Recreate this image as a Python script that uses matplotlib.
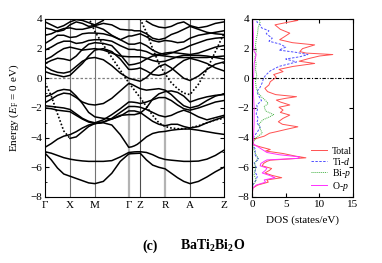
import numpy as np
import matplotlib
matplotlib.use('Agg')
import matplotlib.pyplot as plt

plt.rcParams['font.family'] = ['Liberation Serif', 'DejaVu Serif']
plt.rcParams['mathtext.fontset'] = 'custom'
plt.rcParams['mathtext.rm'] = 'Liberation Serif'
plt.rcParams['mathtext.it'] = 'Liberation Serif:italic'
plt.rcParams['mathtext.bf'] = 'Liberation Serif:bold'

nan = np.nan

# k-path (distance along path) and labels
kpts = [0, 6.25, 12.5, 18.75, 25, 31.25, 37.5, 43.75, 50, 58.5, 67, 75.5, 84,
        86.9, 89.75, 92.6, 95.5, 101.75, 108, 114.25, 120.5, 126.75, 133, 139.25, 145.5,
        154, 162.5, 171, 179.5]
hs_k = [0, 25, 50, 84, 95.5, 120.5, 145.5, 179.5]
hs_labels = ['Γ', 'X', 'M', 'Γ', 'Z', 'R', 'A', 'Z']

# bands (eV) read at kpts
b1 = [-5.05, -5.5, -6.05, -6.45, -6.6, -6.75, -6.9, -7.05, -7.1, -6.95, -6.4, -5.6, -5.1,
      -5.08, -5.07, -5.06, -5.05, -5.5, -5.85, -6.0, -6.1, -6.4, -6.7, -6.95, -7.1, -6.95, -6.65, -6.3, -6.0]
b2 = [-4.95, -5.05, -5.2, -5.35, -5.45, -5.52, -5.57, -5.6, -5.6, -5.6, -5.55, -5.3, -5.0,
      -4.98, -4.96, -4.95, -4.95, -5.0, -5.15, -5.35, -5.47, -5.52, -5.56, -5.6, -5.6, -5.58, -5.45, -5.2, -4.85]
b4 = [-4.65, -4.4, -4.1, -3.9, -3.8, -3.6, -3.35, -3.15, -3.05, -3.0, -3.15, -3.8, -4.65,
      -4.62, -4.55, -4.45, -4.3, -3.95, -3.72, -3.62, -3.58, -3.5, -3.45, -3.42, -3.42, -3.5, -3.6, -3.7, -3.78]
v5 = [nan, nan, nan, nan, -4.05, -3.95, -3.6, -3.25, -3.05, -2.95, -2.75, -2.5, -2.45,
      -2.45, -2.45, -2.4, -2.35, -2.0, -1.4, -1.05, -0.9, -0.85, -0.95, -1.2, -1.6, -1.4, -1.25, -1.15, -1.1]
v1 = [-1.65, -1.4, -1.15, -1.0, -1.05, -1.3, -1.6, -1.75, -1.8, -1.7, -1.35, -0.85, -0.35,
      -0.4, -0.5, -0.6, -0.7, -0.8, -0.75, -0.7, -0.8, -1.1, -1.5, -1.85, -2.0, -1.85, -1.5, -1.2, -1.05]
v2 = [-1.85, -1.9, -1.95, -2.0, -2.1, -2.4, -2.7, -2.9, -3.0, -2.8, -2.45, -2.05, -1.6,
      -1.6, -1.62, -1.65, -1.7, -1.6, -1.45, -1.3, -1.3, -1.5, -1.8, -2.05, -2.15, -2.0, -1.8, -1.6, -1.5]
v3 = [-2.0, -2.05, -2.15, -2.2, -2.25, -2.5, -2.75, -2.95, -3.05, -2.95, -2.7, -2.3, -1.9,
      -1.9, -1.9, -1.92, -1.95, -2.1, -2.3, -2.5, -2.6, -2.5, -2.3, -2.15, -2.3, -2.6, -2.8, -2.65, -2.5]
v4 = [-1.25, -1.1, -0.85, -0.75, -0.8, -1.2, -1.7, -2.3, -2.6, -2.7, -2.75, -2.55, -2.2,
      -2.2, -2.2, -2.25, -2.3, -2.6, -2.9, -3.1, -3.2, -3.1, -3.1, -3.25, -3.35, -3.25, -3.0, -2.8, -2.6]
c1 = [0.8, 0.55, 0.4, 0.35, 0.45, 0.8, 1.15, 1.35, 1.4, 1.25, 0.85, 0.35, 0.0,
      -0.05, -0.1, -0.15, -0.2, 0.05, 0.45, 0.8, 0.95, 0.7, 0.35, 0.0, -0.15, 0.15, 0.6, 0.95, 1.1]
c2 = [0.45, 0.3, 0.2, 0.1, 0.2, 0.6, 1.0, 1.5, 1.9, 2.0, 1.8, 1.3, 0.6,
      0.6, 0.62, 0.65, 0.7, 0.5, 0.25, 0.2, 0.3, 0.55, 0.9, 1.2, 1.35, 1.2, 1.0, 0.7, 0.5]
c3 = [1.0, 1.2, 1.35, 1.3, 1.2, 1.5, 1.95, 2.3, 2.4, 2.35, 2.2, 1.6, 0.9,
      0.92, 0.95, 1.0, 1.05, 1.3, 1.5, 1.55, 1.5, 1.45, 1.4, 1.4, 1.4, 1.4, 1.4, 1.45, 1.5]
c4 = [1.25, 1.45, 1.75, 2.0, 2.1, 2.0, 1.9, 1.95, 2.0, 1.9, 1.7, 1.5, 1.45,
      1.45, 1.45, 1.45, 1.45, 1.35, 1.2, 1.1, 1.15, 1.3, 1.45, 1.55, 1.55, 1.55, 1.5, 1.4, 1.3]
c5 = [1.9, 2.1, 2.35, 2.5, 2.5, 2.35, 2.4, 2.55, 2.6, 2.6, 2.5, 2.2, 1.95,
      1.95, 1.95, 1.9, 1.9, 1.8, 1.6, 1.6, 1.7, 1.75, 1.7, 1.65, 1.6, 1.7, 1.9, 2.1, 2.2]
c6 = [2.35, 2.6, 2.9, 2.9, 2.75, 2.8, 3.0, 3.05, 3.05, 3.0, 2.85, 2.6, 2.3,
      2.3, 2.3, 2.35, 2.4, 2.2, 1.9, 1.7, 1.6, 1.7, 1.85, 2.0, 2.2, 2.4, 2.6, 2.7, 2.75]
c7 = [2.9, 3.0, 3.2, 3.35, 3.4, 3.3, 3.3, 3.4, 3.5, 3.3, 2.9, 2.6, 2.85,
      2.85, 2.9, 2.95, 3.0, 2.8, 2.55, 2.45, 2.55, 2.5, 2.4, 2.45, 2.7, 2.9, 3.0, 3.1, 3.2]
c8 = [3.4, 3.3, 3.15, 3.25, 3.6, 3.8, 3.7, 3.5, 3.55, 3.7, 3.6, 3.3, 3.25,
      3.25, 3.2, 3.2, 3.2, 3.0, 2.7, 2.6, 2.7, 2.95, 3.1, 3.3, 3.5, 3.3, 3.1, 3.0, 2.95]
c9 = [3.8, 3.6, 3.4, 3.55, 3.8, 3.95, 3.9, 3.75, 3.6, 3.9, nan, nan, nan,
      nan, nan, nan, nan, 3.85, 3.6, 3.45, 3.4, 3.5, 3.7, 3.8, 3.55, 3.4, 3.5, 3.7, 3.8]
# steep bands drawn dotted
d1 = [-0.3, -1.2, -2.4, -3.55, -4.05] + [nan] * 24
d2 = [nan, nan, nan, nan, nan, nan, nan, 4.1, 3.15, 2.25, 1.4, 0.55, -0.3,
      -0.55, -0.8, -1.05, -1.3, -1.9, -2.5, -3.0, -3.25, -3.35, -3.4, -3.4, -3.35, -3.2, -3.0, -2.8, -2.7]
d3 = [nan] * 16 + [4.0, 3.1, 2.0, 1.0, 0.3, -0.3, -0.7, -1.0, -1.1, -0.4, 0.6, 1.8, 3.0]

solid_bands = [b1, b2, b4, v5, v1, v2, v3, v4, c1, c2, c3, c4, c5, c6, c7, c8, c9]
dotted_bands = [d1, d2, d3]

# DOS (states/eV) read at energies
total_e = [-8, -7.4, -7.2, -7.0, -6.85, -6.7, -6.55, -6.38, -6.2, -6.08, -5.9, -5.74, -5.6, -5.52,
           -5.42, -5.36, -5.25, -5.07, -4.9, -4.8, -4.62, -4.5, -4.3, -4.1, -3.9, -3.7, -3.6, -3.45,
           -3.27, -3.1, -2.93, -2.7, -2.48, -2.3, -2.14, -1.95, -1.8, -1.6, -1.47, -1.35, -1.24,
           -1.1, -0.9, -0.68, -0.45, -0.23, 0.07, 0.25, 0.45, 0.6, 0.8, 1.0, 1.15, 1.35, 1.5, 1.6,
           1.7, 1.8, 2.0, 2.25, 2.4, 2.6, 2.8, 3.04, 3.3, 3.6, 3.75, 3.9, 4.0]
total_dos = [0, 0.1, 0.8, 2.4, 2.2, 4.4, 3.0, 1.9, 2.6, 2.9, 1.5, 1.7, 2.2, 2.7,
             6.0, 8.0, 6.5, 4.6, 2.0, 2.7, 1.2, 0.3, 0.1, 0.3, 1.8, 2.6, 3.6, 5.0,
             6.8, 4.5, 3.9, 4.6, 5.6, 4.2, 4.6, 4.0, 5.6, 4.2, 3.6, 5.0, 6.6,
             3.5, 2.3, 1.9, 2.5, 2.7, 3.6, 3.2, 4.6, 4.0, 6.1, 9.3, 7.0, 8.6, 10.0, 12.0,
             8.0, 7.1, 7.5, 9.3, 6.0, 4.1, 4.8, 5.6, 4.2, 3.4, 5.0, 6.8, 5.5]
tid_e = [-8, -7.2, -6.9, -6.6, -6.3, -6.0, -5.7, -5.45, -5.3, -5.1, -4.8, -4.5, -4.2, -3.9, -3.6,
         -3.3, -3.0, -2.7, -2.4, -2.1, -1.8, -1.5, -1.2, -0.9, -0.6, -0.3, 0.0, 0.2, 0.5, 0.8,
         1.1, 1.3, 1.45, 1.6, 1.75, 1.9, 2.1, 2.3, 2.5, 2.7, 3.0, 3.2, 3.4, 3.6, 3.8, 4.0]
tid_dos = [0, 0.1, 0.5, 0.8, 0.4, 0.6, 0.3, 1.0, 0.6, 0.4, 0.5, 0.1, 0.05, 0.3, 0.8,
           1.2, 0.7, 0.9, 0.6, 0.8, 0.7, 1.4, 1.0, 0.7, 1.2, 1.5, 1.7, 2.0, 2.7, 4.0,
           6.6, 5.0, 7.1, 8.3, 6.5, 4.0, 5.0, 4.2, 2.5, 3.0, 2.1, 2.5, 1.4, 1.2, 0.7, 0.9]
bip_e = [-8, -7.2, -6.9, -6.5, -6.1, -5.7, -5.4, -5.0, -4.7, -4.4, -4.0, -3.7, -3.4, -3.1, -2.8,
         -2.6, -2.45, -2.2, -1.9, -1.7, -1.5, -1.3, -1.0, -0.6, -0.2, 0.2, 0.6, 1.0, 1.4, 1.8,
         2.2, 2.6, 3.0, 3.4, 3.8, 4.0]
bip_dos = [0, 0.1, 0.6, 0.3, 0.5, 0.4, 0.9, 0.4, 0.2, 0.05, 0.6, 1.5, 1.2, 1.0, 1.6,
           2.6, 3.2, 2.0, 1.8, 2.4, 2.0, 1.5, 0.9, 0.6, 0.5, 0.7, 0.5, 0.6, 0.4, 0.6,
           0.5, 0.6, 0.8, 0.9, 1.2, 1.0]
op_e = [-8, -7.4, -7.2, -7.0, -6.85, -6.7, -6.55, -6.38, -6.2, -6.05, -5.9, -5.74, -5.6, -5.5,
        -5.4, -5.3, -5.15, -5.0, -4.8, -4.6, -4.4, -4.0, -3.0, -2.0, -1.0, 0.0, 1.0, 1.6, 1.8,
        2.2, 3.0, 4.0]
op_dos = [0, 0.1, 0.6, 2.0, 1.8, 3.4, 2.6, 1.5, 2.0, 2.2, 1.2, 1.3, 1.8, 2.2,
          6.8, 7.1, 4.0, 2.2, 1.5, 0.8, 0.1, 0.2, 0.3, 0.3, 0.2, 0.2, 0.3, 0.6, 0.3,
          0.2, 0.2, 0.1]

fig = plt.figure(figsize=(3.82, 2.63), dpi=100)
ax = fig.add_axes([0.118, 0.251, 0.468, 0.677])
ax2 = fig.add_axes([0.660, 0.251, 0.264, 0.677])

# band structure
vcol = ['0.45', '0.45', '0.45', '0.7', '0.3', '0.7', '0.3', '0.45']
vlw = [0.8, 0.8, 0.8, 1.6, 0.8, 1.6, 0.8, 0.8]
for k, c, w in zip(hs_k[1:-1], vcol[1:-1], vlw[1:-1]):
    ax.axvline(k, color=c, lw=w, zorder=1)
ax.axhline(0, color='0.5', lw=0.9, ls=(0, (2, 1.5)), zorder=1)
for b in solid_bands:
    ax.plot(kpts, b, color='black', lw=1.1, zorder=2)
for b in dotted_bands:
    ax.plot(kpts, b, color='black', lw=1.2, ls=(0, (1, 1.2)), zorder=2)
ax.set_xlim(hs_k[0], hs_k[-1])
ax.set_ylim(-8, 4)
ax.set_xticks(hs_k)
ax.set_xticklabels(hs_labels)
ax.tick_params(axis='x', length=0, labelsize=8, pad=3)
ax.set_yticks(range(-8, 5, 2))
ax.set_yticks(range(-8, 5, 1), minor=True)
ax.tick_params(axis='y', which='both', direction='in', right=True, labelsize=8, pad=2)
ax.tick_params(axis='y', which='major', length=3)
ax.tick_params(axis='y', which='minor', length=1.5)
ax.set_ylabel('Energy ($E_\\mathrm{F}$ = 0 eV)', fontsize=8, labelpad=7)

# DOS
ax2.plot(total_dos, total_e, color='#ff5050', lw=0.7, label='Total')
ax2.plot(tid_dos, tid_e, color='#5050ff', lw=0.7, ls=(0, (2.5, 1.5)), label='Ti-$d$')
ax2.plot(bip_dos, bip_e, color='#40b040', lw=0.7, ls=(0, (1, 1)), label='Bi-$p$')
ax2.plot(op_dos, op_e, color='#ff30ff', lw=0.7, label='O-$p$')
ax2.axhline(0, color='black', lw=0.8, ls=(0, (3, 1.5, 1, 1.5)))
ax2.set_xlim(0, 15)
ax2.set_ylim(-8, 4)
ax2.set_xticks([0, 5, 10, 15])
ax2.set_yticks(range(-8, 5, 2))
ax2.tick_params(direction='in', top=True, right=True, labelsize=8, length=3, pad=2)
ax2.set_xlabel('DOS (states/eV)', fontsize=8, labelpad=5)
ax2.legend(loc='upper left', bbox_to_anchor=(0.54, 0.31), frameon=False, fontsize=7,
           handlelength=1.6, handletextpad=0.5, labelspacing=0.0, borderpad=0)

fig.text(0.374, 0.05, '(c)', fontsize=10, fontweight='bold', ha='left')
fig.text(0.471, 0.05, 'BaTi$_\\mathbf{2}$Bi$_\\mathbf{2}$O', fontsize=10, fontweight='bold', ha='left')

fig.savefig('out.png', dpi=100)
